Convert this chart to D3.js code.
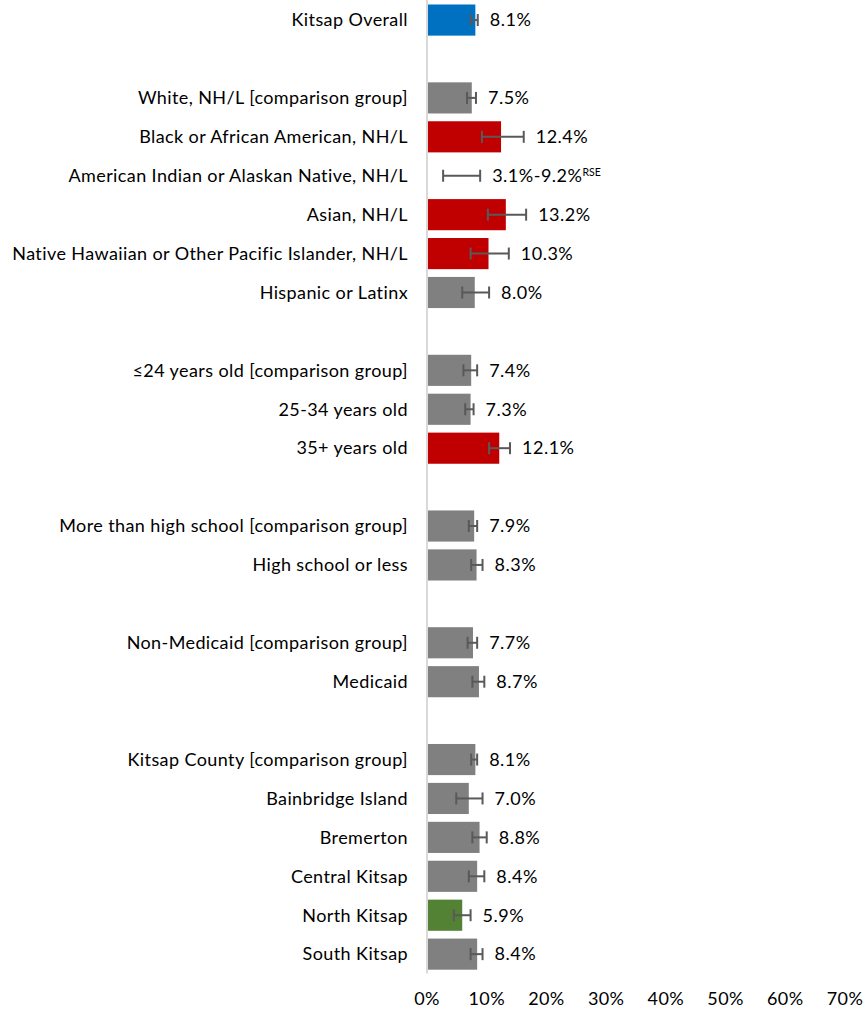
<!DOCTYPE html>
<html>
<head>
<meta charset="utf-8">
<script src="https://cdn.jsdelivr.net/npm/d3@7"></script>
<style>
  body { margin: 0; background: #fff; }
  svg { display: block; font-family: Lato, "Open Sans", sans-serif; }
</style>
</head>
<body>
<script>
'use strict';

// row labels, "" marks an empty spacer row
const categories = [
  "Kitsap Overall", "",
  "White, NH/L [comparison group]", "Black or African American, NH/L",
  "American Indian or Alaskan Native, NH/L", "Asian, NH/L",
  "Native Hawaiian or Other Pacific Islander, NH/L", "Hispanic or Latinx", "",
  "\u226424 years old [comparison group]", "25-34 years old", "35+ years old", "",
  "More than high school [comparison group]", "High school or less", "",
  "Non-Medicaid [comparison group]", "Medicaid", "",
  "Kitsap County [comparison group]", "Bainbridge Island", "Bremerton",
  "Central Kitsap", "North Kitsap", "South Kitsap"
];

// percent estimates (null = no bar)
const values = [
  8.1, null,
  7.5, 12.4, null, 13.2, 10.3, 8.0, null,
  7.4, 7.3, 12.1, null,
  7.9, 8.3, null,
  7.7, 8.7, null,
  8.1, 7.0, 8.8, 8.4, 5.9, 8.4
];

// confidence interval low / high
const ciLow = [
  7.3, null,
  6.7, 9.2, 2.7, 10.2, 7.3, 5.9, null,
  6.1, 6.4, 10.4, null,
  7.0, 7.4, null,
  6.8, 7.6, null,
  7.4, 4.9, 7.6, 7.0, 4.5, 7.3
];
const ciHigh = [
  8.5, null,
  8.2, 16.2, 8.9, 16.6, 13.7, 10.4, null,
  8.4, 7.8, 13.9, null,
  8.4, 9.3, null,
  8.4, 9.6, null,
  8.4, 9.3, 10.0, 9.6, 7.3, 9.3
];

// value labels shown next to the bars
const valueLabels = [
  "8.1%", "",
  "7.5%", "12.4%", "3.1%-9.2%", "13.2%", "10.3%", "8.0%", "",
  "7.4%", "7.3%", "12.1%", "",
  "7.9%", "8.3%", "",
  "7.7%", "8.7%", "",
  "8.1%", "7.0%", "8.8%", "8.4%", "5.9%", "8.4%"
];

// bar color group: overall / same / worse / better
const groups = [
  "overall", null,
  "same", "worse", null, "worse", "worse", "same", null,
  "same", "same", "worse", null,
  "same", "same", null,
  "same", "same", null,
  "same", "same", "same", "same", "better", "same"
];

const xTicks = [0, 10, 20, 30, 40, 50, 60, 70];

const colors = {
  overall: "#0070C0",
  same: "#808080",
  worse: "#C00000",
  better: "#548235"
};

const width = 867, height = 1011;

const svg = d3.select("body").append("svg")
  .attr("width", width)
  .attr("height", height);

const x = d3.scaleLinear().domain([0, 70]).range([427, 845]);

const y = d3.scaleBand()
  .domain(d3.range(categories.length))
  .range([0.6, 973.6])
  .paddingInner(0.2)
  .paddingOuter(0.1);

const rows = categories.map((c, i) => ({
  i: i, label: c, value: values[i], lo: ciLow[i], hi: ciHigh[i],
  text: valueLabels[i], group: groups[i]
}));

// bars
svg.append("g").selectAll("rect")
  .data(rows.filter(d => d.value != null))
  .join("rect")
    .attr("x", x(0))
    .attr("y", d => y(d.i))
    .attr("width", d => x(d.value) - x(0))
    .attr("height", y.bandwidth())
    .attr("fill", d => colors[d.group]);

// vertical axis line
svg.append("line")
  .attr("x1", x(0)).attr("x2", x(0))
  .attr("y1", 0).attr("y2", y.range()[1])
  .attr("stroke", "#d9d9d9")
  .attr("stroke-width", 2);

// error bars
const err = svg.append("g")
  .attr("stroke", "#595959")
  .attr("stroke-width", 2)
  .selectAll("g")
  .data(rows.filter(d => d.lo != null))
  .join("g")
    .attr("transform", d => `translate(0,${y(d.i) + y.bandwidth() / 2})`);

err.append("line")
  .attr("x1", d => x(d.lo)).attr("x2", d => x(d.hi))
  .attr("y1", 0).attr("y2", 0);
err.append("line")
  .attr("x1", d => x(d.lo)).attr("x2", d => x(d.lo))
  .attr("y1", -6).attr("y2", 6);
err.append("line")
  .attr("x1", d => x(d.hi)).attr("x2", d => x(d.hi))
  .attr("y1", -6).attr("y2", 6);

// category labels
svg.append("g").selectAll("text")
  .data(rows.filter(d => d.label))
  .join("text")
    .attr("x", 408)
    .attr("y", d => y(d.i) + y.bandwidth() / 2)
    .attr("dy", "0.35em")
    .attr("text-anchor", "end")
    .style("font-size", "18px")
    .style("letter-spacing", "0.4px")
    .attr("fill", "#000")
    .text(d => d.label);

// value labels
const vl = svg.append("g").selectAll("text")
  .data(rows.filter(d => d.text))
  .join("text")
    .attr("x", d => x(Math.max(d.value || 0, d.hi || 0)) + 12)
    .attr("y", d => y(d.i) + y.bandwidth() / 2)
    .attr("dy", "0.35em")
    .style("font-size", "18px")
    .style("letter-spacing", "0.5px")
    .attr("fill", "#000")
    .text(d => d.text);

vl.filter(d => d.value == null)
  .append("tspan")
    .attr("dy", "-0.55em")
    .style("font-size", "10.5px")
    .style("letter-spacing", "0px")
    .text("RSE");

// x tick labels
svg.append("g").selectAll("text")
  .data(xTicks)
  .join("text")
    .attr("x", d => x(d))
    .attr("y", 999)
    .attr("dy", "0.35em")
    .attr("text-anchor", "middle")
    .style("font-size", "18px")
    .style("letter-spacing", "0.4px")
    .attr("fill", "#000")
    .text(d => d + "%");
</script>
</body>
</html>
